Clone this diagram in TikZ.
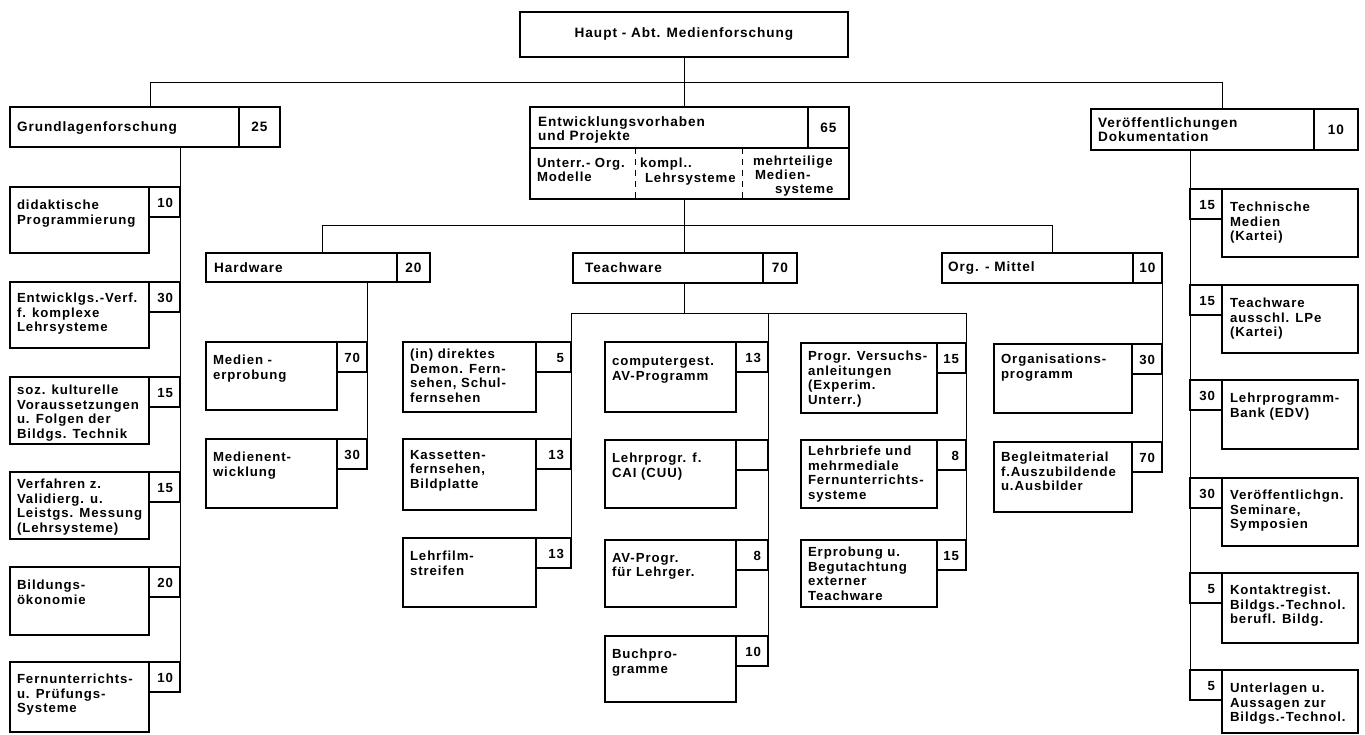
\documentclass[tikz,border=0pt]{standalone}
\usepackage{fontspec}
\newfontfamily\df[LetterSpace=7]{Liberation Sans Bold}
\newcommand\rboxx[9]{%
 \node[bx,anchor=north west,minimum width=#4pt,minimum height=#5pt] (#1) at (#2,#3) {};
 \node[bx,anchor=north west,minimum width=#6pt,minimum height=30pt] (#1n) at (#1.north east) {};
 \node[num,anchor=east] (#1v) at ([xshift=-7pt,yshift=-1pt]#1n.east) {#7};
 \node[txt,anchor=north west] (#1t) at ([xshift=7pt,yshift=-#9pt]#1.north west) {#8};}
\newcommand\lboxx[9]{%
 \node[bx,anchor=north west,minimum width=#6pt,minimum height=30pt] (#1n) at (#2,#3) {};
 \node[bx,anchor=north west,minimum width=#4pt,minimum height=#5pt] (#1) at (#1n.north east) {};
 \node[num,anchor=east] (#1v) at ([xshift=-7pt,yshift=-1pt]#1n.east) {#7};
 \node[txt,anchor=north west] (#1t) at ([xshift=8pt,yshift=-#9pt]#1.north west) {#8};}
\begin{document}
\begin{tikzpicture}[x=1pt,y=-1pt,
 bx/.style={draw,line width=1.2pt,inner sep=0pt,outer sep=0pt,rectangle},
 ln/.style={line width=0.9pt},
 txt/.style={font=\df\fontsize{13.2}{14.6}\selectfont,align=left,inner sep=0pt,outer sep=0pt},
 hdr/.style={font=\df\fontsize{13.6}{13.6}\selectfont,align=left,inner sep=0pt,outer sep=0pt},
 num/.style={font=\df\fontsize{13.2}{14}\selectfont,inner sep=0pt,outer sep=0pt}]
\fill[white] (0,0) rectangle (1365,735);
\useasboundingbox (0,0) rectangle (1365,735);

% top
\node[bx,hdr,minimum width=328pt,minimum height=45pt] (haupt) at (684,34.5) {Haupt - Abt. Medienforschung};

% Grundlagenforschung
\node[bx,anchor=north west,minimum width=229pt,minimum height=40pt] (grund) at (10,107) {};
\node[bx,hdr,anchor=north west,minimum width=41pt,minimum height=40pt] (grundn) at (grund.north east) {25};
\node[hdr,anchor=west] (grundt) at ([xshift=7pt,yshift=-1pt]grund.west) {Grundlagenforschung};

% Entwicklungsvorhaben
\node[bx,anchor=north west,minimum width=278pt,minimum height=41pt] (ent) at (530,107) {};
\node[bx,hdr,anchor=north west,minimum width=41pt,minimum height=41pt] (entn) at (ent.north east) {65};
\node[hdr,anchor=north west,font=\df\fontsize{13.6}{13.2}\selectfont] (entt) at (538,117) {Entwicklungsvorhaben\\und Projekte};
\node[bx,anchor=north west,minimum width=319pt,minimum height=51pt] (entlow) at (ent.south west) {};
\draw[line width=1pt,dash pattern=on 6pt off 5pt] ([xshift=105pt]entlow.north west) -- ([xshift=105pt]entlow.south west);
\draw[line width=1pt,dash pattern=on 6pt off 5pt] ([xshift=212pt]entlow.north west) -- ([xshift=212pt]entlow.south west);
\node[txt,anchor=north west] (e1) at (537,158) {Unterr.- Org.\\Modelle};
\node[txt,anchor=north west] (e2) at (640,158) {kompl..\\\hspace*{5pt}Lehrsysteme};
\node[txt,anchor=north west,font=\df\fontsize{13.2}{14}\selectfont] (e3) at (753,156) {mehrteilige\\\hspace*{2pt}Medien-\\\hspace*{22pt}systeme};

% Veroeffentlichungen
\node[bx,anchor=north west,minimum width=223pt,minimum height=41pt] (veroe) at (1091,109) {};
\node[bx,hdr,anchor=north west,minimum width=44pt,minimum height=41pt] (veroen) at (veroe.north east) {10};
\node[hdr,anchor=north west,font=\df\fontsize{13.6}{13.2}\selectfont] (veroet) at (1098,118) {Veröffentlichungen\\Dokumentation};

% Hardware, Teachware, Org.-Mittel
\node[bx,anchor=north west,minimum width=191pt,minimum height=29pt] (hard) at (206,253) {};
\node[bx,hdr,anchor=north west,minimum width=33pt,minimum height=29pt] (hardn) at (hard.north east) {20};
\node[hdr,anchor=west] (hardt) at ([xshift=8pt]hard.west) {Hardware};

\node[bx,anchor=north west,minimum width=190pt,minimum height=30pt] (teach) at (573,253) {};
\node[bx,hdr,anchor=north west,minimum width=34pt,minimum height=30pt] (teachn) at (teach.north east) {70};
\node[hdr,anchor=west] (teacht) at ([xshift=12pt]teach.west) {Teachware};

\node[bx,anchor=north west,minimum width=191pt,minimum height=30pt] (org) at (942,253) {};
\node[bx,hdr,anchor=north west,minimum width=29pt,minimum height=30pt] (orgn) at (org.north east) {10};
\node[hdr,anchor=west] (orgt) at ([xshift=6pt]org.west) {Org. - Mittel};

% left column
\rboxx{g1}{10}{187}{139}{66}{31}{10}{didaktische\\Programmierung}{13}
\rboxx{g2}{10}{282}{139}{66}{31}{30}{Entwicklgs.-Verf.\\f. komplexe\\Lehrsysteme}{11}
\rboxx{g3}{10}{377}{139}{67}{31}{15}{soz. kulturelle\\Voraussetzungen\\u. Folgen der\\Bildgs. Technik}{8}
\rboxx{g4}{10}{472}{139}{67}{31}{15}{Verfahren z.\\Validierg. u.\\Leistgs. Messung\\(Lehrsysteme)}{7}
\rboxx{g5}{10}{567}{139}{68}{31}{20}{Bildungs-\\ökonomie}{13}
\rboxx{g6}{10}{662}{139}{70}{31}{10}{Fernunterrichts-\\u. Prüfungs-\\Systeme}{12}

% hardware column
\rboxx{h1}{206}{342}{131}{68}{30}{70}{Medien -\\erprobung}{13}
\rboxx{h2}{206}{439}{131}{69}{30}{30}{Medienent-\\wicklung}{13}

% teachware columns
\rboxx{t1}{403}{342}{133}{70}{35}{5}{(in) direktes\\Demon. Fern-\\sehen, Schul-\\fernsehen}{7}
\rboxx{t2}{403}{439}{133}{71}{35}{13}{Kassetten-\\fernsehen,\\Bildplatte}{11}
\rboxx{t3}{403}{538}{133}{69}{35}{13}{Lehrfilm-\\streifen}{13}

\rboxx{m1}{605}{342}{131}{70}{32}{13}{computergest.\\AV-Programm}{15}
\rboxx{m2}{605}{440}{131}{68}{32}{}{Lehrprogr. f.\\CAI (CUU)}{13}
\rboxx{m3}{605}{540}{131}{67}{32}{8}{AV-Progr.\\für Lehrger.}{13}
\rboxx{m4}{605}{636}{131}{66}{32}{10}{Buchpro-\\gramme}{13}

\rboxx{r1}{801}{343}{136}{70}{29}{15}{Progr. Versuchs-\\anleitungen\\(Experim.\\Unterr.)}{8}
\rboxx{r2}{801}{440}{136}{68}{29}{8}{Lehrbriefe und\\mehrmediale\\Fernunterrichts-\\systeme}{6}
\rboxx{r3}{801}{540}{136}{67}{29}{15}{Erprobung u.\\Begutachtung\\externer\\Teachware}{7}

% org column
\rboxx{o1}{994}{344}{138}{69}{30}{30}{Organisations-\\programm}{10}
\rboxx{o2}{994}{442}{138}{70}{30}{70}{Begleitmaterial\\f.Auszubildende\\u.Ausbilder}{10}

% right column
\lboxx{v1}{1190}{189}{136}{68}{32}{15}{Technische\\Medien\\(Kartei)}{13}
\lboxx{v2}{1190}{285}{136}{68}{32}{15}{Teachware\\ausschl. LPe\\(Kartei)}{13}
\lboxx{v3}{1190}{380}{136}{69}{32}{30}{Lehrprogramm-\\Bank (EDV)}{13}
\lboxx{v4}{1190}{478}{136}{68}{32}{30}{Veröffentlichgn.\\Seminare,\\Symposien}{12}
\lboxx{v5}{1190}{573}{136}{70}{32}{5}{Kontaktregist.\\Bildgs.-Technol.\\berufl. Bildg.}{12}
\lboxx{v6}{1190}{670}{136}{63}{32}{5}{Unterlagen u.\\Aussagen zur\\Bildgs.-Technol.}{13}

% connectors
\coordinate (jg) at (150,82);
\coordinate (jv) at (1222,82);
\coordinate (jh) at (322,225);
\coordinate (jo) at (1052,225);
\coordinate (tl) at (571,313);
\coordinate (tm) at (768,313);
\coordinate (tr) at (966,313);
\draw[ln] (haupt.south) -- (haupt.south |- ent.north);
\draw[ln] (jg) -- (jv);
\draw[ln] (jg) -- (jg |- grund.north);
\draw[ln] (jv) -- (jv |- veroe.north);
\draw[ln] (haupt.south |- entlow.south) -- (haupt.south |- teach.north);
\draw[ln] (jh) -- (jo);
\draw[ln] (jh) -- (jh |- hard.north);
\draw[ln] (jo) -- (jo |- org.north);
\draw[ln] (haupt.south |- teach.south) -- (haupt.south |- tl);
\draw[ln] (tl) -- (tr);
\draw[ln] (tl) -- (t3n.south east);
\draw[ln] (tm) -- (m4n.south east);
\draw[ln] (tr) -- (r3n.south east);
\draw[ln] (g1n.east |- grund.south) -- (g6n.south east);
\draw[ln] (h1n.east |- hard.south) -- (h2n.south east);
\draw[ln] (orgn.south east) -- (o2n.south east);
\draw[ln] (v1n.west |- veroe.south) -- (v6n.south west);
\end{tikzpicture}
\end{document}
